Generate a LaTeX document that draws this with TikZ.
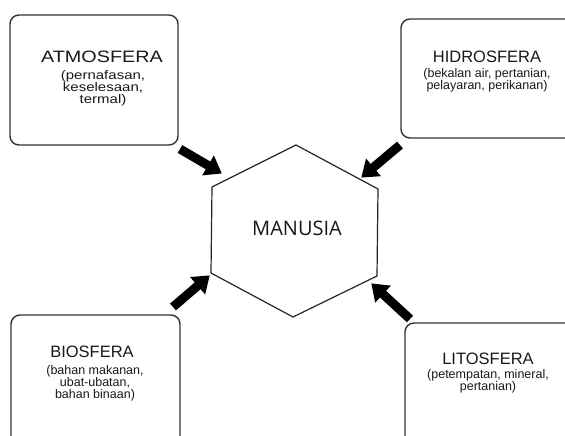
\documentclass[tikz,border=0pt]{standalone}
\usepackage{fontspec}
\setmainfont{Liberation Sans}
\newfontfamily\widesans[FakeStretch=1.2]{Liberation Sans}
\newfontfamily\opensans{Open Sans}
\usetikzlibrary{arrows.meta}
\begin{document}
\begin{tikzpicture}[x=1pt,y=-1pt,
  sphere/.style={draw=black!80,line width=1.4pt,rounded corners=9pt,inner sep=0pt},
  ttl/.style={font=\fontsize{16.5}{18}\selectfont,text=black!90,inner sep=0pt,align=center},
  sub/.style={font=\fontsize{12.5}{12.2}\selectfont,text=black!90,inner sep=0pt,align=center},
  bigarrow/.style={line width=9pt,-{Triangle[length=16pt,width=22pt]},shorten >=-1pt}]
\clip (0,0) rectangle (565,436);
\fill[white] (0,0) rectangle (565,436);
% boxes
\node[sphere,minimum width=168pt,minimum height=130pt] (atm) at (94,80) {};
\node[sphere,minimum width=176pt,minimum height=119pt] (hid) at (489,78.5) {};
\node[sphere,minimum width=169pt,minimum height=135pt] (bio) at (95.5,382.5) {};
\node[sphere,minimum width=176pt,minimum height=130pt] (lit) at (493,388) {};
% texts
\node[ttl,font=\widesans\fontsize{16.5}{18}\selectfont] (atmT) at (102,57) {ATMOSFERA};
\node[sub,font=\widesans\fontsize{12.5}{12}\selectfont,anchor=north] (atmS) at (103,70) {(pernafasan,\\keselesaan,\\termal)};
\node[ttl] (hidT) at (487,57) {HIDROSFERA};
\node[sub,anchor=north] (hidS) at (487,68) {(bekalan air, pertanian,\\pelayaran, perikanan)};
\node[ttl] (bioT) at (92,352) {BIOSFERA};
\node[sub,anchor=north] (bioS) at (95,365) {(bahan makanan,\\ubat-ubatan,\\bahan binaan)};
\node[ttl] (litT) at (488,359) {LITOSFERA};
\node[sub,anchor=north] (litS) at (488,369) {(petempatan, mineral,\\pertanian)};
% hexagon
\coordinate (h1) at (296,145);
\coordinate (h2) at (378,189);
\coordinate (h3) at (377,276);
\coordinate (h4) at (293,317);
\coordinate (h5) at (211,273);
\coordinate (h6) at (212,187);
\draw[line width=1.2pt,black!85] (h1) -- (h2) -- (h3) -- (h4) -- (h5) -- (h6) -- cycle;
\node[font=\opensans\fontsize{20}{22}\selectfont,text=black!90] (man) at (297,228) {MANUSIA};
% arrows
\coordinate (a1s) at (180,149); \coordinate (a1e) at (221,173);
\coordinate (a2s) at (400,145); \coordinate (a2e) at (362,177);
\coordinate (a3s) at (173,307); \coordinate (a3e) at (209,276);
\coordinate (a4s) at (410,319); \coordinate (a4e) at (372,284);
\draw[bigarrow] (a1s) -- (a1e);
\draw[bigarrow] (a2s) -- (a2e);
\draw[bigarrow] (a3s) -- (a3e);
\draw[bigarrow] (a4s) -- (a4e);
\end{tikzpicture}
\end{document}
